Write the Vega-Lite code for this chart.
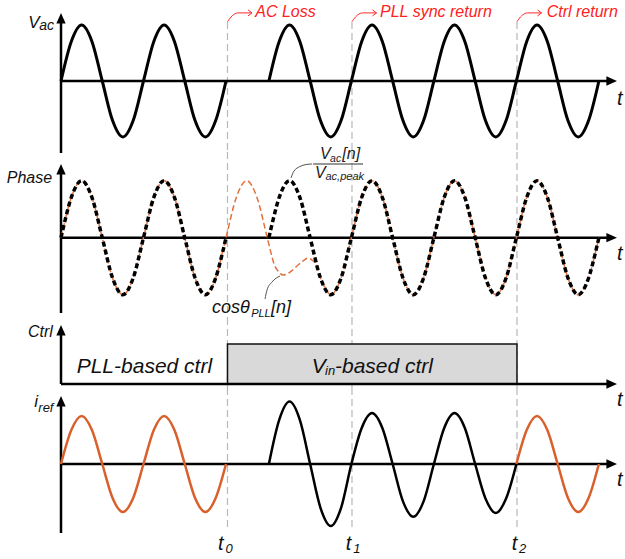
{
  "$schema": "https://vega.github.io/schema/vega-lite/v6.json",
  "padding": 0,
  "spacing": 0,
  "bounds": "flush",
  "background": "white",
  "config": {"view": {"stroke": null}, "concat": {"spacing": 0}},
  "resolve": {"scale": {"x": "independent", "y": "independent"}},
  "datasets": {
    "vac": [
      {"x":0,"y":0,"s":"a"},{"x":0.125,"y":0.7071,"s":"a"},{"x":0.25,"y":1,"s":"a"},{"x":0.375,"y":0.7071,"s":"a"},{"x":0.5,"y":0,"s":"a"},{"x":0.625,"y":-0.7071,"s":"a"},{"x":0.75,"y":-1,"s":"a"},{"x":0.875,"y":-0.7071,"s":"a"},
      {"x":1,"y":0,"s":"a"},{"x":1.125,"y":0.7071,"s":"a"},{"x":1.25,"y":1,"s":"a"},{"x":1.375,"y":0.7071,"s":"a"},{"x":1.5,"y":0,"s":"a"},{"x":1.625,"y":-0.7071,"s":"a"},{"x":1.75,"y":-1,"s":"a"},{"x":1.875,"y":-0.7071,"s":"a"},{"x":2,"y":0,"s":"a"},
      {"x":2.52,"y":0,"s":"b"},{"x":2.645,"y":0.7071,"s":"b"},{"x":2.77,"y":1,"s":"b"},{"x":2.895,"y":0.7071,"s":"b"},{"x":3.02,"y":0,"s":"b"},{"x":3.145,"y":-0.7071,"s":"b"},{"x":3.27,"y":-1,"s":"b"},{"x":3.395,"y":-0.7071,"s":"b"},
      {"x":3.52,"y":0,"s":"b"},{"x":3.645,"y":0.7071,"s":"b"},{"x":3.77,"y":1,"s":"b"},{"x":3.895,"y":0.7071,"s":"b"},{"x":4.02,"y":0,"s":"b"},{"x":4.145,"y":-0.7071,"s":"b"},{"x":4.27,"y":-1,"s":"b"},{"x":4.395,"y":-0.7071,"s":"b"},
      {"x":4.52,"y":0,"s":"b"},{"x":4.645,"y":0.7071,"s":"b"},{"x":4.77,"y":1,"s":"b"},{"x":4.895,"y":0.7071,"s":"b"},{"x":5.02,"y":0,"s":"b"},{"x":5.145,"y":-0.7071,"s":"b"},{"x":5.27,"y":-1,"s":"b"},{"x":5.395,"y":-0.7071,"s":"b"},
      {"x":5.52,"y":0,"s":"b"},{"x":5.645,"y":0.7071,"s":"b"},{"x":5.77,"y":1,"s":"b"},{"x":5.895,"y":0.7071,"s":"b"},{"x":6.02,"y":0,"s":"b"},{"x":6.145,"y":-0.7071,"s":"b"},{"x":6.27,"y":-1,"s":"b"},{"x":6.395,"y":-0.7071,"s":"b"},{"x":6.52,"y":0,"s":"b"}
    ],
    "pll": [
      {"x":0,"y":0},{"x":0.125,"y":0.7071},{"x":0.25,"y":1},{"x":0.375,"y":0.7071},{"x":0.5,"y":0},{"x":0.625,"y":-0.7071},{"x":0.75,"y":-1},{"x":0.875,"y":-0.7071},
      {"x":1,"y":0},{"x":1.125,"y":0.7071},{"x":1.25,"y":1},{"x":1.375,"y":0.7071},{"x":1.5,"y":0},{"x":1.625,"y":-0.7071},{"x":1.75,"y":-1},{"x":1.875,"y":-0.7071},
      {"x":2,"y":0},{"x":2.125,"y":0.7071},{"x":2.25,"y":1},{"x":2.375,"y":0.7071},{"x":2.5,"y":0},{"x":2.58,"y":-0.45},{"x":2.64,"y":-0.6},{"x":2.695,"y":-0.654},{"x":2.78,"y":-0.6},{"x":2.88,"y":-0.47},{"x":2.96,"y":-0.38},{"x":3.0,"y":-0.36},{"x":3.05,"y":-0.4},{"x":3.1,"y":-0.49},
      {"x":3.145,"y":-0.7071},{"x":3.27,"y":-1},{"x":3.395,"y":-0.7071},
      {"x":3.52,"y":0},{"x":3.645,"y":0.7071},{"x":3.77,"y":1},{"x":3.895,"y":0.7071},{"x":4.02,"y":0},{"x":4.145,"y":-0.7071},{"x":4.27,"y":-1},{"x":4.395,"y":-0.7071},
      {"x":4.52,"y":0},{"x":4.645,"y":0.7071},{"x":4.77,"y":1},{"x":4.895,"y":0.7071},{"x":5.02,"y":0},{"x":5.145,"y":-0.7071},{"x":5.27,"y":-1},{"x":5.395,"y":-0.7071},
      {"x":5.52,"y":0},{"x":5.645,"y":0.7071},{"x":5.77,"y":1},{"x":5.895,"y":0.7071},{"x":6.02,"y":0},{"x":6.145,"y":-0.7071},{"x":6.27,"y":-1},{"x":6.395,"y":-0.7071},{"x":6.52,"y":0}
    ],
    "irefOrange": [
      {"x":0,"y":0,"s":"a"},{"x":0.125,"y":0.7071,"s":"a"},{"x":0.25,"y":1,"s":"a"},{"x":0.375,"y":0.7071,"s":"a"},{"x":0.5,"y":0,"s":"a"},{"x":0.625,"y":-0.7071,"s":"a"},{"x":0.75,"y":-1,"s":"a"},{"x":0.875,"y":-0.7071,"s":"a"},
      {"x":1,"y":0,"s":"a"},{"x":1.125,"y":0.7071,"s":"a"},{"x":1.25,"y":1,"s":"a"},{"x":1.375,"y":0.7071,"s":"a"},{"x":1.5,"y":0,"s":"a"},{"x":1.625,"y":-0.7071,"s":"a"},{"x":1.75,"y":-1,"s":"a"},{"x":1.875,"y":-0.7071,"s":"a"},{"x":2,"y":0,"s":"a"},
      {"x":5.52,"y":0,"s":"c"},{"x":5.645,"y":0.7071,"s":"c"},{"x":5.77,"y":1,"s":"c"},{"x":5.895,"y":0.7071,"s":"c"},{"x":6.02,"y":0,"s":"c"},{"x":6.145,"y":-0.7071,"s":"c"},{"x":6.27,"y":-1,"s":"c"},{"x":6.395,"y":-0.7071,"s":"c"},{"x":6.52,"y":0,"s":"c"}
    ],
    "irefBlack": [
      {"x":2.52,"y":0},{"x":2.645,"y":0.919},{"x":2.77,"y":1.3},{"x":2.895,"y":0.919},{"x":3.02,"y":0},{"x":3.145,"y":-0.912},{"x":3.27,"y":-1.29},{"x":3.395,"y":-0.912},
      {"x":3.52,"y":0},{"x":3.645,"y":0.75},{"x":3.77,"y":1.06},{"x":3.895,"y":0.75},{"x":4.02,"y":0},{"x":4.145,"y":-0.778},{"x":4.27,"y":-1.1},{"x":4.395,"y":-0.778},
      {"x":4.52,"y":0},{"x":4.645,"y":0.75},{"x":4.77,"y":1.06},{"x":4.895,"y":0.75},{"x":5.02,"y":0},{"x":5.145,"y":-0.721},{"x":5.27,"y":-1.02},{"x":5.395,"y":-0.721},{"x":5.52,"y":0}
    ]
  },
  "vconcat": [
    {
      "width": 625, "height": 152,
      "encoding": {
        "x": {"field": "x", "type": "quantitative", "scale": {"domain": [-0.7394, 6.8364], "nice": false, "zero": false}, "axis": null},
        "y": {"field": "y", "type": "quantitative", "scale": {"domain": [-1.2679, 1.4464], "nice": false, "zero": false}, "axis": null}
      },
      "layer": [
        {"data": {"values": [{"x":2.018,"y":1.054,"y2":-1.2679},{"x":3.527,"y":1.054,"y2":-1.2679},{"x":5.527,"y":1.054,"y2":-1.2679}]},
         "mark": {"type": "rule", "color": "#b8b8b8", "strokeWidth": 1.2, "strokeDash": [7, 4]},
         "encoding": {"y2": {"field": "y2"}}},
        {"data": {"values": [{"x":0,"x2":6.68,"y":0,"y2":0},{"x":0,"x2":0,"y":-1.286,"y2":1.12}]},
         "mark": {"type": "rule", "color": "#000", "strokeWidth": 2.5},
         "encoding": {"x2": {"field": "x2"}, "y2": {"field": "y2"}}},
        {"data": {"values": [{"x":0,"y":1.1196}]},
         "mark": {"type": "point", "shape": "M0,-1L-0.88,1L0.88,1Z", "filled": true, "size": 112, "color": "#000", "opacity": 1, "strokeWidth": 0}},
        {"data": {"values": [{"x":6.675,"y":0}]},
         "mark": {"type": "point", "shape": "M1,0L-1,-0.88L-1,0.88Z", "filled": true, "size": 112, "color": "#000", "opacity": 1, "strokeWidth": 0}},
        {"data": {"name": "vac"},
         "mark": {"type": "line", "color": "#000", "strokeWidth": 3, "interpolate": "cardinal"},
         "encoding": {"detail": {"field": "s"}}},
        {"data": {"values": [
           {"x":2.0182,"y":1.0589,"g":"a","i":1},{"x":2.0606,"y":1.1429,"g":"a","i":2},{"x":2.103,"y":1.1964,"g":"a","i":3},{"x":2.1455,"y":1.2161,"g":"a","i":4},{"x":2.3152,"y":1.2161,"g":"a","i":5},
           {"x":3.5273,"y":1.0589,"g":"b","i":1},{"x":3.5697,"y":1.1429,"g":"b","i":2},{"x":3.6121,"y":1.1964,"g":"b","i":3},{"x":3.6546,"y":1.2161,"g":"b","i":4},{"x":3.8243,"y":1.2161,"g":"b","i":5},
           {"x":5.5273,"y":1.0589,"g":"c","i":1},{"x":5.5697,"y":1.1429,"g":"c","i":2},{"x":5.6121,"y":1.1964,"g":"c","i":3},{"x":5.6546,"y":1.2161,"g":"c","i":4},{"x":5.8243,"y":1.2161,"g":"c","i":5}
         ]},
         "mark": {"type": "line", "color": "#ff2a2a", "strokeWidth": 1, "interpolate": "monotone"},
         "encoding": {"detail": {"field": "g"}, "order": {"field": "i"}}},
        {"data": {"values": [
           {"x":2.2667,"y":1.2696,"g":"a","i":1},{"x":2.3152,"y":1.2161,"g":"a","i":2},{"x":2.2667,"y":1.1625,"g":"a","i":3},
           {"x":3.7758,"y":1.2696,"g":"b","i":1},{"x":3.8243,"y":1.2161,"g":"b","i":2},{"x":3.7758,"y":1.1625,"g":"b","i":3},
           {"x":5.7758,"y":1.2696,"g":"c","i":1},{"x":5.8243,"y":1.2161,"g":"c","i":2},{"x":5.7758,"y":1.1625,"g":"c","i":3}
         ]},
         "mark": {"type": "line", "color": "#ff2a2a", "strokeWidth": 1},
         "encoding": {"detail": {"field": "g"}, "order": {"field": "i"}}},
        {"data": {"values": [{"x":2.354,"y":1.143,"t":"AC Loss"},{"x":3.867,"y":1.143,"t":"PLL sync return"},{"x":5.887,"y":1.143,"t":"Ctrl return"}]},
         "mark": {"type": "text", "align": "left", "baseline": "alphabetic", "font": "Liberation Sans", "fontStyle": "italic", "fontSize": 16, "color": "#ff2020"},
         "encoding": {"text": {"field": "t"}}},
        {"data": {"values": [{"x":-0.396,"y":0.941,"t":"V"}]},
         "mark": {"type": "text", "align": "left", "baseline": "alphabetic", "font": "Liberation Sans", "fontStyle": "italic", "fontSize": 17, "color": "#111"},
         "encoding": {"text": {"field": "t"}}},
        {"data": {"values": [{"x":-0.263,"y":0.911,"t":"ac"}]},
         "mark": {"type": "text", "align": "left", "baseline": "alphabetic", "font": "Liberation Sans", "fontStyle": "italic", "fontSize": 14, "color": "#111"},
         "encoding": {"text": {"field": "t"}}},
        {"data": {"values": [{"x":6.739,"y":-0.4286,"t":"t"}]},
         "mark": {"type": "text", "align": "left", "baseline": "alphabetic", "font": "Liberation Sans", "fontStyle": "italic", "fontSize": 20, "color": "#111"},
         "encoding": {"text": {"field": "t"}}}
      ]
    },
    {
      "width": 625, "height": 166,
      "encoding": {
        "x": {"field": "x", "type": "quantitative", "scale": {"domain": [-0.7394, 6.8364], "nice": false, "zero": false}, "axis": null},
        "y": {"field": "y", "type": "quantitative", "scale": {"domain": [-1.4088, 1.5035], "nice": false, "zero": false}, "axis": null}
      },
      "layer": [
        {"data": {"values": [{"x":2.018,"y":1.5035,"y2":-1.4088},{"x":3.527,"y":1.5035,"y2":-1.4088},{"x":5.527,"y":1.5035,"y2":-1.4088}]},
         "mark": {"type": "rule", "color": "#b8b8b8", "strokeWidth": 1.2, "strokeDash": [7, 4]},
         "encoding": {"y2": {"field": "y2"}}},
        {"data": {"values": [{"x":0,"x2":6.68,"y":0,"y2":0},{"x":0,"x2":0,"y":-1.321,"y2":1.2}]},
         "mark": {"type": "rule", "color": "#000", "strokeWidth": 2.5},
         "encoding": {"x2": {"field": "x2"}, "y2": {"field": "y2"}}},
        {"data": {"values": [{"x":0,"y":1.2}]},
         "mark": {"type": "point", "shape": "M0,-1L-0.88,1L0.88,1Z", "filled": true, "size": 112, "color": "#000", "opacity": 1, "strokeWidth": 0}},
        {"data": {"values": [{"x":6.675,"y":0}]},
         "mark": {"type": "point", "shape": "M1,0L-1,-0.88L-1,0.88Z", "filled": true, "size": 112, "color": "#000", "opacity": 1, "strokeWidth": 0}},
        {"data": {"name": "pll"},
         "mark": {"type": "line", "color": "#e0703e", "strokeWidth": 1.5, "strokeDash": [6, 3], "interpolate": "cardinal"}},
        {"data": {"name": "vac"},
         "mark": {"type": "line", "color": "#000", "strokeWidth": 3.5, "strokeDash": [5, 3], "interpolate": "cardinal"},
         "encoding": {"detail": {"field": "s"}}},
        {"data": {"values": [{"x":2.788,"y":1.05},{"x":2.824,"y":1.17},{"x":2.897,"y":1.249},{"x":2.97,"y":1.284},{"x":3.042,"y":1.293}]},
         "mark": {"type": "line", "color": "#555", "strokeWidth": 1, "interpolate": "monotone"}},
        {"data": {"values": [{"x":2.473,"y":-1.075},{"x":2.497,"y":-0.918},{"x":2.558,"y":-0.777},{"x":2.655,"y":-0.672}]},
         "mark": {"type": "line", "color": "#555", "strokeWidth": 1, "interpolate": "monotone"}},
        {"data": {"values": [{"x":3.055,"x2":3.661,"y":1.293}]},
         "mark": {"type": "rule", "color": "#333", "strokeWidth": 1.2},
         "encoding": {"x2": {"field": "x2"}}},
        {"data": {"values": [{"x":-0.658,"y":0.96,"t":"Phase"}]},
         "mark": {"type": "text", "align": "left", "baseline": "alphabetic", "font": "Liberation Sans", "fontStyle": "italic", "fontSize": 16, "color": "#111"},
         "encoding": {"text": {"field": "t"}}},
        {"data": {"values": [{"x":3.139,"y":1.372,"t":"V"},{"x":3.41,"y":1.372,"t":"[n]"},{"x":3.079,"y":1.047,"t":"V"}]},
         "mark": {"type": "text", "align": "left", "baseline": "alphabetic", "font": "Liberation Sans", "fontStyle": "italic", "fontSize": 16, "color": "#222"},
         "encoding": {"text": {"field": "t"}}},
        {"data": {"values": [{"x":3.262,"y":1.328,"t":"ac"}]},
         "mark": {"type": "text", "align": "left", "baseline": "alphabetic", "font": "Liberation Sans", "fontStyle": "italic", "fontSize": 10.5, "color": "#222"},
         "encoding": {"text": {"field": "t"}}},
        {"data": {"values": [{"x":3.206,"y":1.0035,"t":"ac,peak"}]},
         "mark": {"type": "text", "align": "left", "baseline": "alphabetic", "font": "Liberation Sans", "fontStyle": "italic", "fontSize": 11, "color": "#222"},
         "encoding": {"text": {"field": "t"}}},
        {"data": {"values": [{"x":1.83,"y":-1.329,"t":"cosθ"},{"x":2.545,"y":-1.329,"t":"[n]"}]},
         "mark": {"type": "text", "align": "left", "baseline": "alphabetic", "font": "Liberation Sans", "fontStyle": "italic", "fontSize": 18, "color": "#111"},
         "encoding": {"text": {"field": "t"}}},
        {"data": {"values": [{"x":2.305,"y":-1.39,"t":"PLL"}]},
         "mark": {"type": "text", "align": "left", "baseline": "alphabetic", "font": "Liberation Sans", "fontStyle": "italic", "fontSize": 11, "color": "#111"},
         "encoding": {"text": {"field": "t"}}},
        {"data": {"values": [{"x":6.739,"y":-0.386,"t":"t"}]},
         "mark": {"type": "text", "align": "left", "baseline": "alphabetic", "font": "Liberation Sans", "fontStyle": "italic", "fontSize": 20, "color": "#111"},
         "encoding": {"text": {"field": "t"}}}
      ]
    },
    {
      "width": 625, "height": 70,
      "encoding": {
        "x": {"field": "x", "type": "quantitative", "scale": {"domain": [-0.7394, 6.8364], "nice": false, "zero": false}, "axis": null},
        "y": {"field": "y", "type": "quantitative", "scale": {"domain": [-0.1, 1.65], "nice": false, "zero": false}, "axis": null}
      },
      "layer": [
        {"data": {"values": [{"x":2.018,"y":1.65,"y2":-0.1},{"x":3.527,"y":1.65,"y2":-0.1},{"x":5.527,"y":1.65,"y2":-0.1}]},
         "mark": {"type": "rule", "color": "#b8b8b8", "strokeWidth": 1.2, "strokeDash": [7, 4]},
         "encoding": {"y2": {"field": "y2"}}},
        {"data": {"values": [{"x":2.018,"x2":5.527,"y":0,"y2":1}]},
         "mark": {"type": "rect", "fill": "#d9d9d9", "stroke": "#111", "strokeWidth": 1.5},
         "encoding": {"x2": {"field": "x2"}, "y2": {"field": "y2"}}},
        {"data": {"values": [{"x":0,"x2":6.68,"y":0,"y2":0},{"x":0,"x2":0,"y":0,"y2":1.3425}]},
         "mark": {"type": "rule", "color": "#000", "strokeWidth": 2.5},
         "encoding": {"x2": {"field": "x2"}, "y2": {"field": "y2"}}},
        {"data": {"values": [{"x":0,"y":1.3425}]},
         "mark": {"type": "point", "shape": "M0,-1L-0.88,1L0.88,1Z", "filled": true, "size": 112, "color": "#000", "opacity": 1, "strokeWidth": 0}},
        {"data": {"values": [{"x":6.675,"y":0}]},
         "mark": {"type": "point", "shape": "M1,0L-1,-0.88L-1,0.88Z", "filled": true, "size": 112, "color": "#000", "opacity": 1, "strokeWidth": 0}},
        {"data": {"values": [{"x":-0.4,"y":1.18,"t":"Ctrl"}]},
         "mark": {"type": "text", "align": "left", "baseline": "alphabetic", "font": "Liberation Sans", "fontStyle": "italic", "fontSize": 16, "color": "#111"},
         "encoding": {"text": {"field": "t"}}},
        {"data": {"values": [{"x":0.19,"y":0.2675,"t":"PLL-based ctrl"},{"x":3.039,"y":0.2675,"t":"V"},{"x":3.321,"y":0.2675,"t":"-based ctrl"}]},
         "mark": {"type": "text", "align": "left", "baseline": "alphabetic", "font": "Liberation Sans", "fontStyle": "italic", "fontSize": 21, "color": "#111"},
         "encoding": {"text": {"field": "t"}}},
        {"data": {"values": [{"x":3.2,"y":0.225,"t":"in"}]},
         "mark": {"type": "text", "align": "left", "baseline": "alphabetic", "font": "Liberation Sans", "fontStyle": "italic", "fontSize": 13, "color": "#111"},
         "encoding": {"text": {"field": "t"}}},
        {"data": {"values": [{"x":6.739,"y":-0.55,"t":"t"}]},
         "mark": {"type": "text", "align": "left", "baseline": "alphabetic", "font": "Liberation Sans", "fontStyle": "italic", "fontSize": 20, "color": "#111"},
         "encoding": {"text": {"field": "t"}}}
      ]
    },
    {
      "width": 625, "height": 171,
      "encoding": {
        "x": {"field": "x", "type": "quantitative", "scale": {"domain": [-0.7394, 6.8364], "nice": false, "zero": false}, "axis": null},
        "y": {"field": "y", "type": "quantitative", "scale": {"domain": [-1.9792, 1.5833], "nice": false, "zero": false}, "axis": null}
      },
      "layer": [
        {"data": {"values": [{"x":2.018,"y":1.5833,"y2":-1.375},{"x":3.527,"y":1.5833,"y2":-1.375},{"x":5.527,"y":1.5833,"y2":-1.375}]},
         "mark": {"type": "rule", "color": "#b8b8b8", "strokeWidth": 1.2, "strokeDash": [7, 4]},
         "encoding": {"y2": {"field": "y2"}}},
        {"data": {"values": [{"x":0,"x2":6.68,"y":0,"y2":0},{"x":0,"x2":0,"y":-1.4375,"y2":1.306}]},
         "mark": {"type": "rule", "color": "#000", "strokeWidth": 2.5},
         "encoding": {"x2": {"field": "x2"}, "y2": {"field": "y2"}}},
        {"data": {"values": [{"x":0,"y":1.306}]},
         "mark": {"type": "point", "shape": "M0,-1L-0.88,1L0.88,1Z", "filled": true, "size": 112, "color": "#000", "opacity": 1, "strokeWidth": 0}},
        {"data": {"values": [{"x":6.675,"y":0}]},
         "mark": {"type": "point", "shape": "M1,0L-1,-0.88L-1,0.88Z", "filled": true, "size": 112, "color": "#000", "opacity": 1, "strokeWidth": 0}},
        {"data": {"name": "irefOrange"},
         "mark": {"type": "line", "color": "#d9602b", "strokeWidth": 2.5, "interpolate": "cardinal"},
         "encoding": {"detail": {"field": "s"}}},
        {"data": {"name": "irefBlack"},
         "mark": {"type": "line", "color": "#000", "strokeWidth": 2.5, "interpolate": "cardinal"}},
        {"data": {"values": [{"x":-0.3236,"y":1.194,"t":"i"}]},
         "mark": {"type": "text", "align": "left", "baseline": "alphabetic", "font": "Liberation Sans", "fontStyle": "italic", "fontSize": 17, "color": "#111"},
         "encoding": {"text": {"field": "t"}}},
        {"data": {"values": [{"x":-0.275,"y":1.09,"t":"ref"}]},
         "mark": {"type": "text", "align": "left", "baseline": "alphabetic", "font": "Liberation Sans", "fontStyle": "italic", "fontSize": 13, "color": "#111"},
         "encoding": {"text": {"field": "t"}}},
        {"data": {"values": [{"x":6.739,"y":-0.458,"t":"t"},{"x":1.903,"y":-1.792,"t":"t"},{"x":3.451,"y":-1.792,"t":"t"},{"x":5.463,"y":-1.792,"t":"t"}]},
         "mark": {"type": "text", "align": "left", "baseline": "alphabetic", "font": "Liberation Sans", "fontStyle": "italic", "fontSize": 20, "color": "#111"},
         "encoding": {"text": {"field": "t"}}},
        {"data": {"values": [{"x":1.995,"y":-1.854,"t":"0"},{"x":3.542,"y":-1.854,"t":"1"},{"x":5.553,"y":-1.854,"t":"2"}]},
         "mark": {"type": "text", "align": "left", "baseline": "alphabetic", "font": "Liberation Sans", "fontStyle": "italic", "fontSize": 13, "color": "#111"},
         "encoding": {"text": {"field": "t"}}}
      ]
    }
  ]
}
